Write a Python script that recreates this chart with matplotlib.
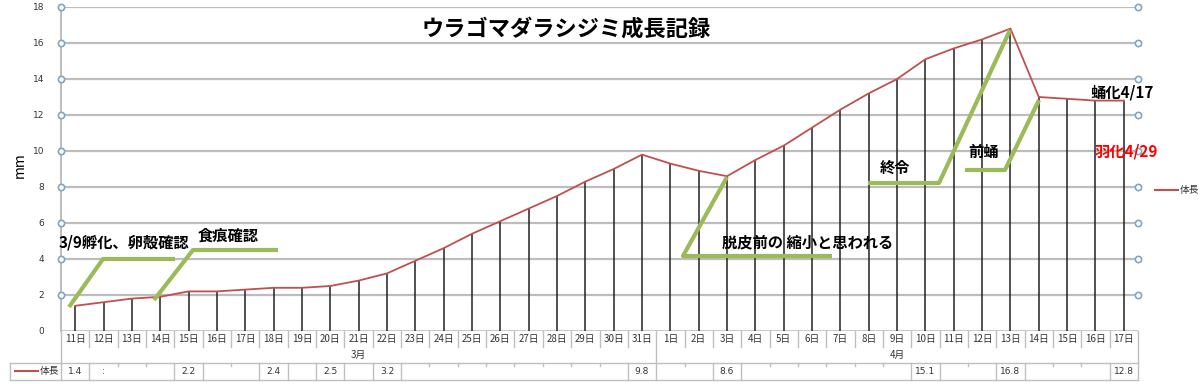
import matplotlib
matplotlib.use("Agg")
import matplotlib.pyplot as plt
import matplotlib.transforms as mtrans

plt.rcParams['font.family'] = ['Noto Sans CJK JP', 'DejaVu Sans']

# data
march_days = [f"{d}日" for d in range(11, 32)]
april_days = [f"{d}日" for d in range(1, 18)]
days = march_days + april_days
months = ["3月", "4月"]
lengths = [1.4, 1.6, 1.8, 1.9, 2.2, 2.2, 2.3, 2.4, 2.4, 2.5, 2.8, 3.2, 3.9, 4.6, 5.4, 6.1, 6.8, 7.5, 8.3, 9.0, 9.8,
           9.3, 8.9, 8.6, 9.5, 10.3, 11.3, 12.3, 13.2, 14.0, 15.1, 15.7, 16.2, 16.8, 13.0, 12.9, 12.8, 12.8]
table_vals = ["1.4", ":", "", "", "2.2", "", "", "2.4", "", "2.5", "", "3.2", "", "", "", "", "", "", "", "", "9.8",
              "", "", "8.6", "", "", "", "", "", "", "15.1", "", "", "16.8", "", "", "", "12.8"]
series_name = "体長"

W, H = 1200, 384
fig = plt.figure(figsize=(12, 3.84), dpi=100)
ax = fig.add_axes([61 / W, 1 - 331 / H, (1138 - 61) / W, (331 - 7) / H])
fy = lambda py: 1 - py / H


def fig_line(xs, ys, **kw):
    # polyline in reference pixel coordinates
    fig.add_artist(plt.Line2D([p / W for p in xs], [fy(p) for p in ys], transform=fig.transFigure, **kw))


n = len(days)
x = list(range(n))
ax.set_xlim(-0.5, n - 0.5)
ax.set_ylim(0, 18)

grid_c = "#BDBDBD"
for yv in range(2, 19, 2):
    ax.axhline(yv, color=grid_c, lw=1.6, zorder=1)

# drop lines
ax.vlines(x, 0, lengths, color="#222222", lw=1.1, zorder=2)
ax.plot(x, lengths, color="#C0504D", lw=1.3, zorder=3)

for s in ["top", "right", "bottom"]:
    ax.spines[s].set_visible(False)
ax.spines["left"].set_color("#BFBFBF")
ax.spines["left"].set_linewidth(1.5)
ax.axhline(0, color="#BFBFBF", lw=1.2, zorder=1)

ax.set_yticks(range(0, 19, 2))
ax.set_yticklabels([str(v) for v in range(0, 19, 2)], fontsize=6.5, color="#333333", family="DejaVu Sans")
ax.tick_params(axis="y", length=0, pad=12)
ax.set_xticks([])
fig.text(20 / W, fy(165), "mm", rotation=90, fontsize=10, ha="center", va="center")

# circle tick markers on both sides
for xv in (-0.5, n - 0.5):
    ax.plot([xv] * 9, list(range(2, 19, 2)), "o", ms=4.5, mfc="white",
            mec="#7EA6C8", mew=1.2, clip_on=False, zorder=5)

# bottom category labels & table
tx = mtrans.blended_transform_factory(ax.transData, fig.transFigure)
line_c = "#BFBFBF"
for i, d in enumerate(days):
    ax.text(i, fy(339), d, transform=tx, ha="center", va="center", fontsize=7, color="#333333")
for i in range(n + 1):
    b = i - 0.5
    bottom = 362 if i in (0, 21, n) else 347
    ax.plot([b, b], [fy(331), fy(bottom)], color=line_c, lw=1, transform=tx, clip_on=False)
ax.text(10, fy(355), months[0], transform=tx, ha="center", va="center", fontsize=7, color="#333333")
ax.text(29, fy(355), months[1], transform=tx, ha="center", va="center", fontsize=7, color="#333333")

# table row
fig_line([10, 1138], [363, 363], color=line_c, lw=1)
fig_line([10, 1138], [380, 380], color=line_c, lw=1)
fig_line([10, 10], [363, 380], color=line_c, lw=1)
for i in range(n + 1):
    b = i - 0.5
    filled = (i < n and table_vals[i] not in ("", ":")) or (i > 0 and table_vals[i - 1] not in ("", ":")) or i in (0, n)
    if filled:
        ax.plot([b, b], [fy(363), fy(380)], color=line_c, lw=1, transform=tx, clip_on=False)
    else:
        ax.plot([b, b], [fy(363), fy(366)], color=line_c, lw=1, transform=tx, clip_on=False)
for i, v in enumerate(table_vals):
    if v:
        ax.text(i, fy(372), v, transform=tx, ha="center", va="center", fontsize=6.5, color="#333333",
                family="DejaVu Sans")
fig_line([15, 38], [371, 371], color="#C0504D", lw=1.5)
fig.text(40 / W, fy(371), series_name, fontsize=7, va="center", color="#333333")

# legend at right
fig_line([1155, 1178], [190, 190], color="#C0504D", lw=1.5)
fig.text(1180 / W, fy(190), series_name, fontsize=7, va="center", color="#333333")

# title
fig.text(566 / W, fy(29), "ウラゴマダラシジミ成長記録", fontsize=16, fontweight="bold", ha="center", va="center")

# green annotation shapes (pixel coordinates)
green = "#9BBB59"
shapes = [
    [(69, 307), (103, 259), (175, 259)],
    [(154, 300), (193, 250), (278, 250)],
    [(727, 177), (683, 256), (832, 256)],
    [(868, 183), (939, 183), (1010, 30)],
    [(965, 170), (1005, 170), (1039, 100)],
]
for pts in shapes:
    fig_line([p[0] for p in pts], [p[1] for p in pts], color=green, lw=3, solid_capstyle="butt", zorder=6)

ann = dict(fontsize=11, fontweight="bold", va="center")
fig.text(59 / W, fy(242), "3/9孵化、卵殻確認", ha="left", **ann)
fig.text(198 / W, fy(236), "食痕確認", ha="left", **ann)
fig.text(722 / W, fy(242), "脱皮前の 縮小と思われる", ha="left", **ann)
fig.text(880 / W, fy(168), "終令", ha="left", **ann)
fig.text(968 / W, fy(152), "前蛹", ha="left", **ann)
fig.text(1090 / W, fy(92), "蛹化4/17", ha="left", **ann)
fig.text(1095 / W, fy(152), "羽化4/29", ha="left", color="red", **ann)

fig.savefig("out.png", dpi=100)
